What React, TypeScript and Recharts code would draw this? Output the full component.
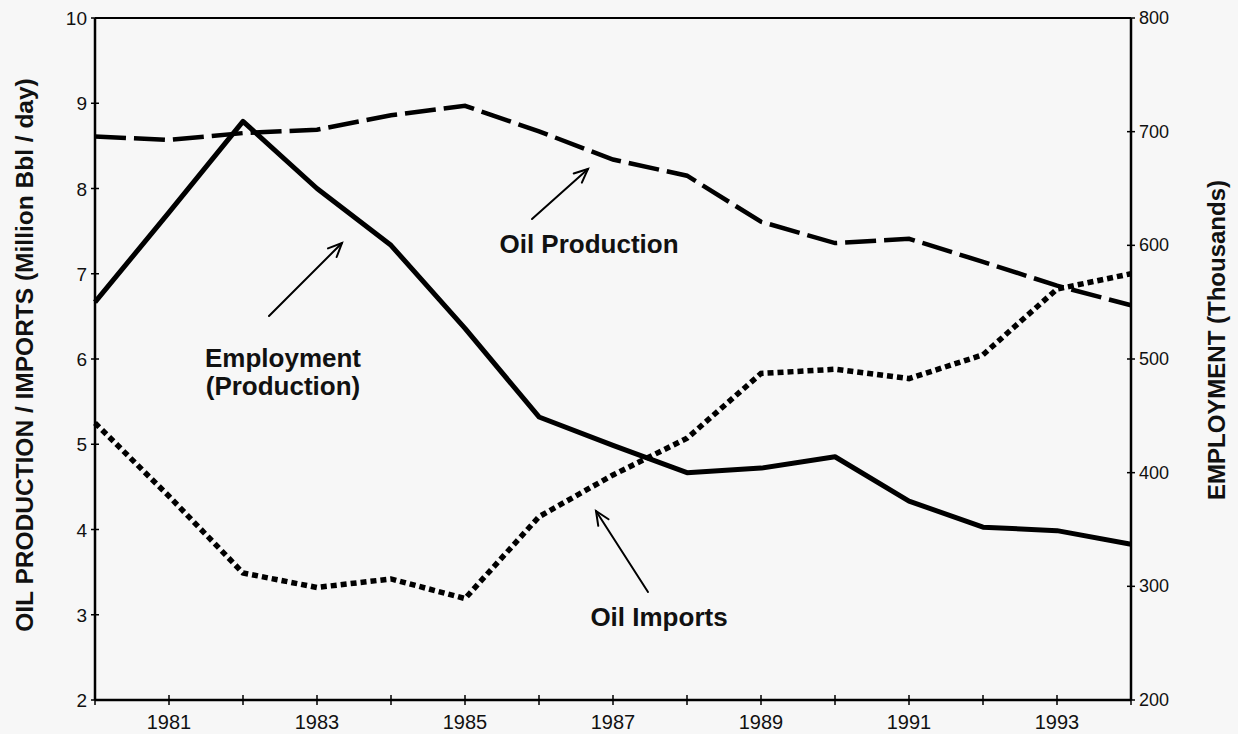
import { LineChart, Line, XAxis, YAxis, ReferenceLine } from 'recharts'

const years = [1980, 1981, 1982, 1983, 1984, 1985, 1986, 1987, 1988, 1989, 1990, 1991, 1992, 1993, 1994]
const labelYears = [1981, 1983, 1985, 1987, 1989, 1991, 1993]
// million bbl / day (left axis)
const oilProduction = [8.61, 8.57, 8.65, 8.69, 8.86, 8.97, 8.67, 8.34, 8.15, 7.61, 7.36, 7.41, 7.14, 6.86, 6.63]
const oilImports = [5.25, 4.39, 3.49, 3.32, 3.42, 3.19, 4.15, 4.64, 5.07, 5.83, 5.88, 5.77, 6.05, 6.82, 7.0]
// thousands of workers (right axis)
const employment = [550, 629, 709, 650, 600, 527, 449, 424, 400, 404, 414, 375, 352, 349, 337]
const leftTicks = [2, 3, 4, 5, 6, 7, 8, 9, 10]
const rightTicks = [200, 300, 400, 500, 600, 700, 800]

const data = years.map((year, i) => ({
  year,
  production: oilProduction[i],
  imports: oilImports[i],
  employment: employment[i],
}))

const FONT = '"Liberation Sans", Arial, Helvetica, sans-serif'
const INK = '#111'

interface TickProps {
  x?: number
  y?: number
  payload?: { value: number }
}

function XTick({ x = 0, y = 0, payload }: TickProps) {
  const v = payload?.value ?? 0
  return (
    <g>
      <line x1={x} x2={x} y1={y - 5} y2={y + 5} stroke="#000" strokeWidth={1.5} />
      {labelYears.includes(v) && (
        <text x={x} y={y + 29} textAnchor="middle" fontSize={20} fill={INK} fontFamily={FONT}>
          {v}
        </text>
      )}
    </g>
  )
}

function LeftTick({ x = 0, y = 0, payload }: TickProps) {
  return (
    <g>
      <line x1={x - 4} x2={x + 4} y1={y} y2={y} stroke="#000" strokeWidth={1.5} />
      <text x={x - 8} y={y + 7} textAnchor="end" fontSize={19} fill={INK} fontFamily={FONT}>
        {payload?.value}
      </text>
    </g>
  )
}

function RightTick({ x = 0, y = 0, payload }: TickProps) {
  return (
    <g>
      <line x1={x - 4} x2={x + 4} y1={y} y2={y} stroke="#000" strokeWidth={1.5} />
      <text x={x + 8} y={y + 6} textAnchor="start" fontSize={18} fill={INK} fontFamily={FONT}>
        {payload?.value}
      </text>
    </g>
  )
}

function Arrow({ x1, y1, x2, y2 }: { x1: number; y1: number; x2: number; y2: number }) {
  const a = Math.atan2(y2 - y1, x2 - x1)
  const len = 15
  const spread = 0.42
  const h1 = [x2 - len * Math.cos(a - spread), y2 - len * Math.sin(a - spread)]
  const h2 = [x2 - len * Math.cos(a + spread), y2 - len * Math.sin(a + spread)]
  return (
    <g stroke="#000" strokeWidth={2} fill="none" strokeLinecap="round">
      <line x1={x1} y1={y1} x2={x2} y2={y2} />
      <polyline points={`${h1[0]},${h1[1]} ${x2},${y2} ${h2[0]},${h2[1]}`} />
    </g>
  )
}

function Annotations() {
  const t = { fontFamily: FONT, fontWeight: 700, fontSize: 26, fill: INK, textAnchor: 'middle' as const }
  return (
    <svg
      width={1238}
      height={734}
      style={{ position: 'absolute', left: 0, top: 0, pointerEvents: 'none' }}
    >
      <text {...t} x={283} y={367}>Employment</text>
      <text {...t} x={283} y={395}>(Production)</text>
      <Arrow x1={269} y1={316} x2={342} y2={243} />

      <text {...t} x={589} y={253}>Oil Production</text>
      <Arrow x1={532} y1={219} x2={588} y2={169} />

      <text {...t} x={659} y={626}>Oil Imports</text>
      <Arrow x1={648} y1={592} x2={596} y2={511} />

      <text
        x={0}
        y={0}
        transform="translate(24 355) rotate(-90)"
        textAnchor="middle"
        dominantBaseline="central"
        fontFamily={FONT}
        fontWeight={700}
        fontSize={24.5}
        fill={INK}
      >
        OIL PRODUCTION / IMPORTS (Million Bbl / day)
      </text>
      <text
        x={0}
        y={0}
        transform="translate(1216 340) rotate(-90)"
        textAnchor="middle"
        dominantBaseline="central"
        fontFamily={FONT}
        fontWeight={700}
        fontSize={24}
        fill={INK}
      >
        EMPLOYMENT (Thousands)
      </text>
    </svg>
  )
}

export default function App() {
  return (
    <div style={{ position: 'absolute', left: 0, top: 0, width: 1238, height: 734, background: '#f7f7f7' }}>
      <LineChart
        width={1238}
        height={734}
        data={data}
        margin={{ top: 18, right: 47, bottom: 4, left: 35 }}
      >
        <XAxis
          dataKey="year"
          type="number"
          domain={[1980, 1994]}
          ticks={years}
          interval={0}
          height={30}
          tickSize={0}
          tickMargin={0}
          tick={<XTick />}
          axisLine={{ stroke: '#000', strokeWidth: 2.5 }}
          tickLine={false}
        />
        <YAxis
          yAxisId="left"
          orientation="left"
          domain={[2, 10]}
          ticks={leftTicks}
          interval={0}
          width={60}
          tickSize={0}
          tickMargin={0}
          tick={<LeftTick />}
          axisLine={{ stroke: '#000', strokeWidth: 2.5 }}
          tickLine={false}
        />
        <YAxis
          yAxisId="right"
          orientation="right"
          domain={[200, 800]}
          ticks={rightTicks}
          interval={0}
          width={60}
          tickSize={0}
          tickMargin={0}
          tick={<RightTick />}
          axisLine={{ stroke: '#000', strokeWidth: 2.5 }}
          tickLine={false}
        />
        <ReferenceLine yAxisId="left" y={10} stroke="#000" strokeWidth={2} />
        <Line
          yAxisId="left"
          dataKey="production"
          type="linear"
          stroke="#000"
          strokeWidth={4.5}
          strokeDasharray="31 8"
          dot={false}
          activeDot={false}
          isAnimationActive={false}
        />
        <Line
          yAxisId="left"
          dataKey="imports"
          type="linear"
          stroke="#000"
          strokeWidth={5.5}
          strokeDasharray="6 4"
          dot={false}
          activeDot={false}
          isAnimationActive={false}
        />
        <Line
          yAxisId="right"
          dataKey="employment"
          type="linear"
          stroke="#000"
          strokeWidth={5}
          strokeLinejoin="round"
          dot={false}
          activeDot={false}
          isAnimationActive={false}
        />
      </LineChart>
      <Annotations />
    </div>
  )
}
